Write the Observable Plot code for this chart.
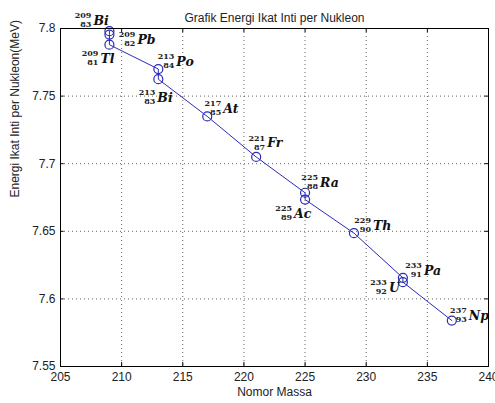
<!DOCTYPE html>
<html>
<head>
<meta charset="utf-8">
<script src="https://cdn.jsdelivr.net/npm/d3@7"></script>
<script src="https://cdn.jsdelivr.net/npm/@observablehq/plot@0.6"></script>
<style>
  html, body { margin: 0; padding: 0; background: #fff; }
  svg { overflow: visible; }
</style>
</head>
<body>
<div id="chart"></div>
<script>
// ---- data ----
const massNumber = [209, 209, 209, 213, 213, 217, 221, 225, 225, 229, 233, 233, 237];
const bindingEnergy = [7.798, 7.7955, 7.788, 7.770, 7.7625, 7.735, 7.705, 7.6785, 7.6735, 7.6486, 7.6156, 7.6124, 7.584];
const elementSymbol = ["Bi", "Pb", "Tl", "Po", "Bi", "At", "Fr", "Ra", "Ac", "Th", "Pa", "U", "Np"];
const atomicNumber = [83, 82, 81, 84, 83, 85, 87, 88, 89, 90, 91, 92, 93];
const xTicks = [205, 210, 215, 220, 225, 230, 235, 240];
const yTicks = [7.55, 7.6, 7.65, 7.7, 7.75, 7.8];
const titleText = "Grafik Energi Ikat Inti per Nukleon";
const xLabelText = "Nomor Massa";
const yLabelText = "Energi Ikat Inti per Nukleon(MeV)";

// ---- label placement (annotation layout, px offsets from each point) ----
const labelOffsets = [
  [-17, -11], [27, 4.5], [-10, 13], [17, -8], [-2, 18], [15, -8], [10, -14.5],
  [14, -10.5], [-12, 13], [18, -8], [20, -8], [-15, 5], [16, -6]
];

const points = massNumber.map((m, i) => ({
  m, e: bindingEnergy[i], sym: elementSymbol[i], z: atomicNumber[i]
}));

const blue = "#2a2ab8";
const sans = "'Liberation Sans', Arial, sans-serif";
const serif = "'DejaVu Serif', 'Liberation Serif', serif";

const labelMarks = [];
points.forEach((p, i) => {
  const [ox, oy] = labelOffsets[i];
  labelMarks.push(
    Plot.text([p], {x: "m", y: "e", text: d => String(d.m), dx: ox - 1, dy: oy - 4.5,
      textAnchor: "end", fontSize: 8, fontWeight: "bold", fontFamily: serif, fill: "#222"}),
    Plot.text([p], {x: "m", y: "e", text: d => String(d.z), dx: ox - 1, dy: oy + 4.5,
      textAnchor: "end", fontSize: 8, fontWeight: "bold", fontFamily: serif, fill: "#222"}),
    Plot.text([p], {x: "m", y: "e", text: "sym", dx: ox + 1, dy: oy + 1,
      textAnchor: "start", fontSize: 12.5, fontWeight: "bold", fontStyle: "italic",
      fontFamily: serif, fill: "#111"})
  );
});

const chart = Plot.plot({
  width: 495,
  height: 403,
  marginLeft: 60,
  marginRight: 7,
  marginTop: 28,
  marginBottom: 37,
  style: {fontFamily: sans, fontSize: "12px", color: "#222", background: "#fff"},
  x: {domain: [205, 240], ticks: xTicks, label: null},
  y: {domain: [7.55, 7.8], ticks: yTicks, label: null},
  marks: [
    Plot.gridX(xTicks.slice(1, -1), {stroke: "#000", strokeOpacity: 0.6, strokeDasharray: "1,3"}),
    Plot.gridY(yTicks.slice(1, -1), {stroke: "#000", strokeOpacity: 0.6, strokeDasharray: "1,3"}),
    Plot.axisX(xTicks, {tickSize: 0, tickPadding: 6, fontSize: 12, tickFormat: d => String(d)}),
    Plot.axisY(yTicks, {tickSize: 0, tickPadding: 5, fontSize: 12, tickFormat: d => String(+d.toFixed(2))}),
    Plot.ruleX(xTicks, {y1: 7.55, y2: 7.553, stroke: "#000"}),
    Plot.ruleX(xTicks, {y1: 7.797, y2: 7.8, stroke: "#000"}),
    Plot.ruleY(yTicks, {x1: 205, x2: 205.3, stroke: "#000"}),
    Plot.ruleY(yTicks, {x1: 239.7, x2: 240, stroke: "#000"}),
    Plot.line(points, {x: "m", y: "e", stroke: blue, strokeWidth: 1}),
    Plot.dot(points, {x: "m", y: "e", r: 4.5, stroke: blue, strokeWidth: 1.2, fill: "none"}),
    ...labelMarks,
    Plot.frame({stroke: "#000", strokeWidth: 1}),
    Plot.text([titleText], {frameAnchor: "top", dy: -15, fontSize: 12, fill: "#222"}),
    Plot.text([xLabelText], {frameAnchor: "bottom", dy: 29, fontSize: 12, fill: "#222"}),
    Plot.text([yLabelText], {frameAnchor: "left", dx: -45, rotate: -90, fontSize: 12, fill: "#222"})
  ]
});
document.getElementById("chart").appendChild(chart);
</script>
</body>
</html>
